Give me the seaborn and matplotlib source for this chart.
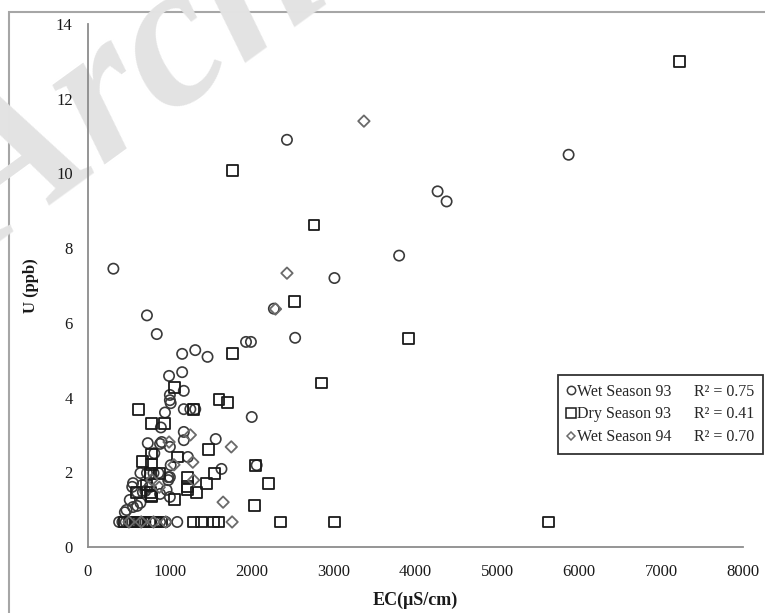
import numpy as np
import pandas as pd
import matplotlib
matplotlib.use("Agg")
import matplotlib.pyplot as plt
from matplotlib.lines import Line2D
from matplotlib.patches import Rectangle
import seaborn as sns

# ---------------- data ----------------
wet93_ec = [310, 720, 840, 1150, 1310, 1460, 1930, 1990, 2270, 2430, 2530, 3010, 3800, 4270, 4380, 5870,
            990, 1150, 1170, 1000, 1000, 1010, 1170, 1250, 1310, 940, 890, 1170, 1170, 1560, 2000,
            730, 880, 900, 1000, 810, 1010, 1220, 1630, 2060, 980, 980, 640, 720, 800, 860, 1000,
            550, 540, 660, 600, 670, 960, 1000, 510, 470, 450, 550, 640, 600, 700, 750, 880,
            380, 420, 460, 500, 540, 580, 620, 660, 700, 760, 820, 880, 950, 1090]
wet93_u = [7.45, 6.2, 5.7, 5.17, 5.27, 5.09, 5.49, 5.49, 6.38, 10.9, 5.6, 7.2, 7.8, 9.52, 9.25, 10.5,
           4.58, 4.68, 4.18, 4.07, 3.93, 3.85, 3.69, 3.69, 3.69, 3.6, 3.2, 3.08, 2.86, 2.89, 3.48,
           2.78, 2.76, 2.81, 2.68, 2.51, 2.19, 2.41, 2.09, 2.19, 1.87, 1.79, 1.98, 1.98, 1.98, 1.98, 1.87,
           1.71, 1.61, 1.66, 1.47, 1.47, 1.53, 1.34, 1.26, 0.99, 0.93, 1.07, 1.18, 1.1, 1.5, 1.6, 1.42,
           0.67, 0.67, 0.67, 0.67, 0.67, 0.67, 0.67, 0.67, 0.67, 0.67, 0.67, 0.67, 0.67, 0.67]

dry93_ec = [7230, 1760, 2760, 2520, 1760, 3910, 2850, 1060, 1600, 1700, 620, 1290, 770, 940, 780, 660, 770,
            1090, 1470, 1540, 2050, 1210, 1210, 1330, 1450, 2210, 2030, 1060, 770, 760, 870, 590, 760, 780,
            720, 1210,
            450, 520, 600, 680, 760, 830, 900, 1290, 1390, 1530, 1590, 2350, 3010, 5620]
dry93_u = [13.0, 10.09, 8.62, 6.58, 5.19, 5.59, 4.39, 4.28, 3.96, 3.88, 3.69, 3.69, 3.3, 3.3, 2.49, 2.28, 2.22,
           2.41, 2.6, 1.98, 2.19, 1.87, 1.61, 1.47, 1.69, 1.69, 1.1, 1.28, 1.39, 1.98, 1.98, 1.47, 1.47, 1.34,
           1.66, 1.55,
           0.67, 0.67, 0.67, 0.67, 0.67, 0.67, 0.67, 0.67, 0.67, 0.67, 0.67, 0.67, 0.67, 0.67]

wet94_ec = [3370, 2430, 2290, 1250, 1750, 1280, 1290, 1650, 990, 1050, 870, 780,
            500, 650, 800, 950, 1760]
wet94_u = [11.4, 7.33, 6.37, 3.0, 2.68, 2.27, 1.79, 1.2, 2.81, 2.2, 1.6, 1.8,
           0.67, 0.67, 0.67, 0.67, 0.67]

series_names = ["Wet Season 93", "Dry Season 93", "Wet Season 94"]
r2_labels = ["R\u00b2 = 0.75", "R\u00b2 = 0.41", "R\u00b2 = 0.70"]
x_ticks = [0, 1000, 2000, 3000, 4000, 5000, 6000, 7000, 8000]
y_ticks = [0, 2, 4, 6, 8, 10, 12, 14]

# ---------------- figure ----------------
sns.set_theme(style="white")
plt.rcParams["font.family"] = ["Liberation Serif", "DejaVu Serif"]

fig = plt.figure(figsize=(7.65, 6.13), dpi=100)
fig.patch.set_facecolor("white")

# outer chart frame (Excel style)
fig.patches.append(Rectangle((9 / 765, -0.05), 1.2, 1 - 12 / 613 + 0.05, transform=fig.transFigure,
                             fill=False, edgecolor="#a6a6a6", linewidth=1.5, zorder=-2))

# watermark
fig.text(-0.01, 0.585, "Archive of SID", rotation=36, rotation_mode="anchor", fontsize=150,
         color="#e3e3e3", fontstyle="italic", fontweight="bold", family=["Liberation Serif"],
         zorder=-1, ha="left", va="baseline")

ax = fig.add_axes([88 / 765, 1 - 547 / 613, (743 - 88) / 765, (547 - 24) / 613])
ax.set_facecolor("none")

df = pd.concat([
    pd.DataFrame({"EC": wet93_ec, "U": wet93_u, "season": series_names[0]}),
    pd.DataFrame({"EC": dry93_ec, "U": dry93_u, "season": series_names[1]}),
    pd.DataFrame({"EC": wet94_ec, "U": wet94_u, "season": series_names[2]}),
])

styles = {
    series_names[0]: dict(marker="o", s=55, edgecolor="#3a3a3a", linewidth=1.2),
    series_names[1]: dict(marker="s", s=62, edgecolor="#1a1a1a", linewidth=1.3),
    series_names[2]: dict(marker="D", s=34, edgecolor="#6a6a6a", linewidth=1.3),
}
for name in series_names:
    sub = df[df["season"] == name]
    sns.scatterplot(data=sub, x="EC", y="U", facecolor="none", ax=ax, legend=False,
                    zorder=3, **styles[name])

ax.set_xlim(0, 8000)
ax.set_ylim(0, 14)
ax.set_xticks(x_ticks)
ax.set_yticks(y_ticks)
ax.set_xticklabels([str(t) for t in x_ticks])
ax.set_yticklabels([str(t) for t in y_ticks])

for s in ["top", "right"]:
    ax.spines[s].set_visible(False)
for s in ["left", "bottom"]:
    ax.spines[s].set_color("#8c8c8c")
    ax.spines[s].set_linewidth(1.3)

ax.tick_params(axis="both", which="major", direction="out", length=5, width=1.2,
               color="#8c8c8c", labelsize=12, labelcolor="#1a1a1a")
ax.tick_params(axis="x", pad=7)
ax.tick_params(axis="y", pad=6)
ax.grid(False)

ax.set_xlabel("EC(\u03bcS/cm)", fontsize=13, fontweight="bold", labelpad=9, color="#1a1a1a")
ax.set_ylabel("U (ppb)", fontsize=12, fontweight="bold", labelpad=12, color="#1a1a1a")

# legend with marker column and R² column
handles = [
    Line2D([], [], linestyle="none", marker="o", markersize=6, markerfacecolor="none",
           markeredgecolor="#3a3a3a", markeredgewidth=1.1),
    Line2D([], [], linestyle="none", marker="s", markersize=6.5, markerfacecolor="none",
           markeredgecolor="#1a1a1a", markeredgewidth=1.1),
    Line2D([], [], linestyle="none", marker="D", markersize=4.5, markerfacecolor="none",
           markeredgecolor="#6a6a6a", markeredgewidth=1.1),
]
blank = [Line2D([], [], linestyle="none", marker=None) for _ in range(3)]
leg = ax.legend(handles + blank, series_names + r2_labels, ncol=2,
                loc="upper left", bbox_to_anchor=((558 - 88) / 655, (547 - 375) / 523),
                frameon=True, fancybox=False, framealpha=1, edgecolor="#333333",
                fontsize=11.5, handlelength=0.55, handletextpad=0.1, columnspacing=0.75,
                borderpad=0.55, labelspacing=0.42, borderaxespad=0)
leg.get_frame().set_linewidth(1.3)

fig.savefig("out.png", dpi=100, facecolor="white")
